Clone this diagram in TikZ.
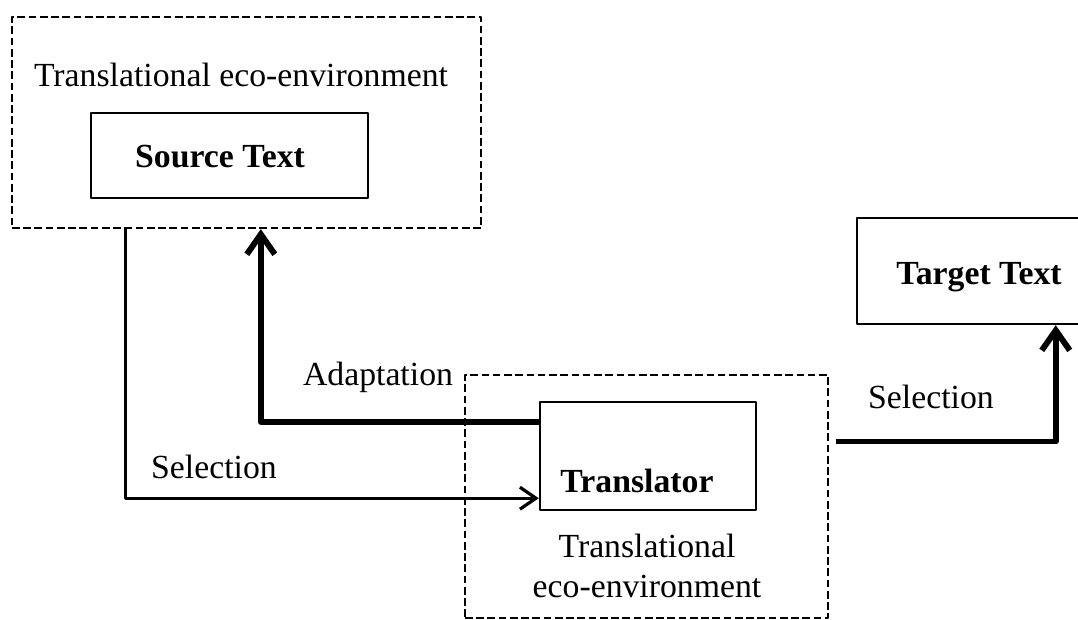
\documentclass[tikz,border=0pt]{standalone}
\usepackage{fontspec}
\setmainfont{Liberation Serif}
\usetikzlibrary{arrows.meta,calc}
\begin{document}
\begin{tikzpicture}[x=0.025cm,y=-0.025cm, line join=round, font=\fontsize{24}{28}\selectfont,
  box/.style={draw, line width=1.7pt, inner sep=0pt},
  envbox/.style={draw, line width=1.6pt, dash pattern=on 5.5pt off 2.5pt, inner sep=0pt},
  flow/.style={line width=2.3pt, -{Straight Barb[length=4mm,width=5.5mm]}},
  bigflow/.style={line width=4.2pt, -{Straight Barb[length=5mm,width=7mm]}}]
\useasboundingbox (0,0) rectangle (1078,619);
% eco-environment of the source text
\node[envbox, minimum width=11.725cm, minimum height=5.275cm] (envA) at (246.5,122.5) {};
\node (envAlbl) at (241,75) {Translational eco-environment};
\node[box, minimum width=6.925cm, minimum height=2.125cm] (src) at (229.5,155.5) {};
\node[font=\fontsize{24}{28}\selectfont\bfseries] (srclbl) at (220,157) {Source Text};
% translator and its eco-environment
\node[envbox, minimum width=9.075cm, minimum height=6.075cm] (envB) at (646.5,496.5) {};
\node[box, minimum width=5.4cm, minimum height=2.7cm] (trans) at (648,456) {};
\node[font=\fontsize{24}{28}\selectfont\bfseries] (translbl) at (637,481) {Translator};
\node[align=center] (envBlbl) at (647,566) {Translational\\eco-environment};
% target text
\node[box, minimum width=6.075cm, minimum height=2.65cm] (tgt) at (978.5,271) {};
\node[font=\fontsize{24}{28}\selectfont\bfseries] (tgtlbl) at (979,277) {Target Text};
% arrows
\draw[bigflow] ($(trans.north west)+(0,21)$) -| ($(envA.south west)+(250,0)$);
\draw[flow] ($(envA.south west)+(115,0)$) |- ($(trans.south west)+(0,-13)$);
\draw[bigflow] ($(envB.east)+(7,-55)$) -| ($(tgt.south west)+(200,0)$);
\node (adapt) at (378,377) {Adaptation};
\node (sel1) at (214,467) {Selection};
\node (sel2) at (931,397) {Selection};
\end{tikzpicture}
\end{document}
